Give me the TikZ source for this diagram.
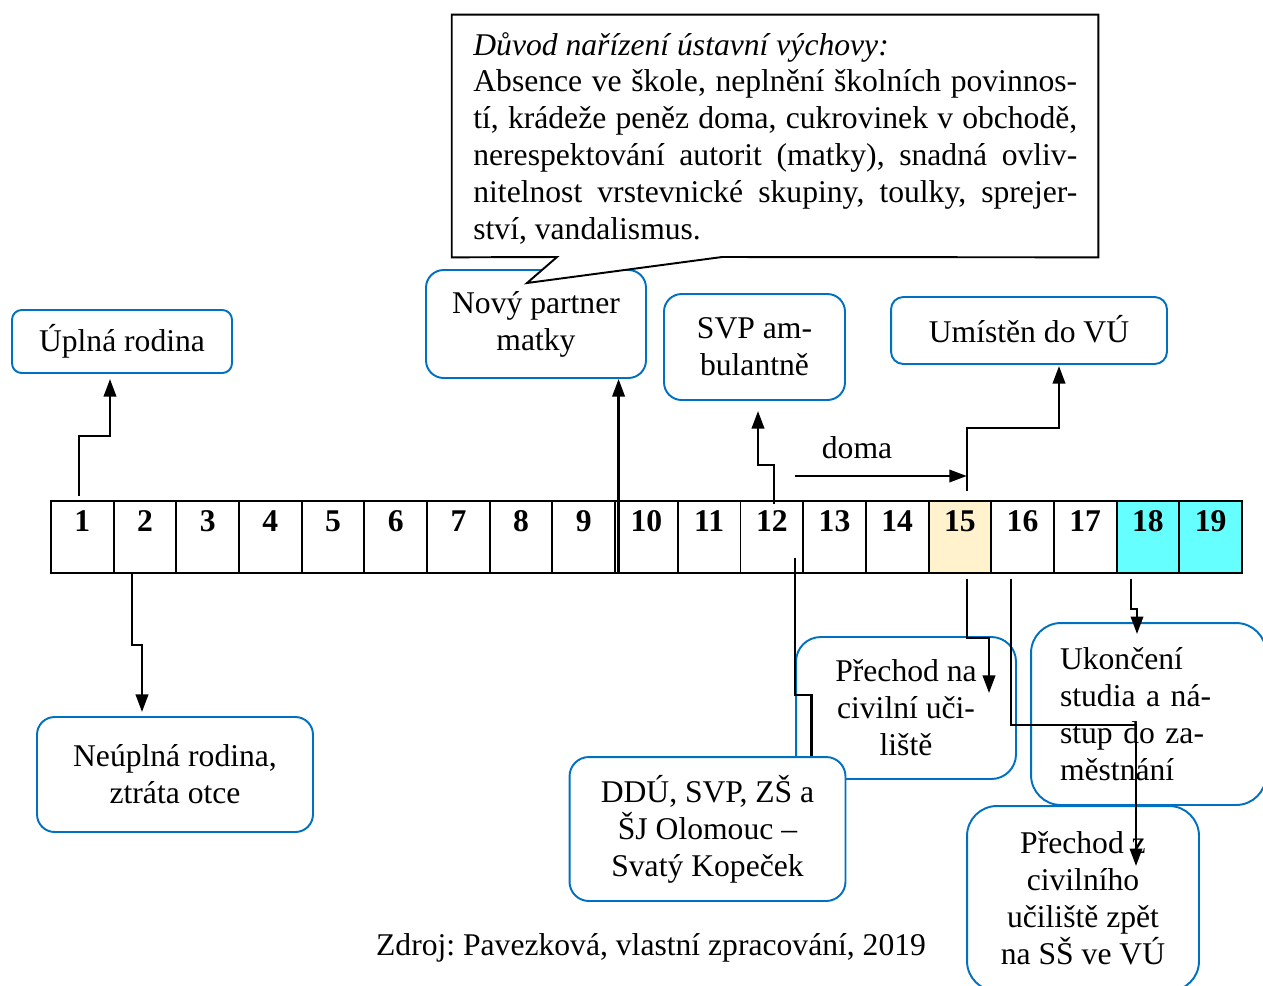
\documentclass[tikz,border=0pt]{standalone}
\usepackage{fontspec}
\setmainfont{Liberation Serif}
\usetikzlibrary{arrows.meta}
\frenchspacing

\definecolor{boxblue}{RGB}{0,112,192}
\definecolor{creamfill}{RGB}{255,242,204}
\definecolor{cyanfill}{RGB}{102,255,255}

\pgfdeclarelayer{back}
\pgfdeclarelayer{mid}
\pgfsetlayers{back,mid,main}

\tikzset{
  txt/.style={font=\fontsize{18}{21}\selectfont},
  box/.style={txt, draw=boxblue, line width=1.1pt, fill=white, align=center, inner sep=0pt},
  cell/.style={draw, line width=1.1pt, minimum width=1.2536cm, minimum height=1.44cm,
    inner sep=0pt, text height=0.6cm, text depth=0.84cm,
    font=\fontsize{18}{21}\selectfont\bfseries},
  conn/.style={line width=1.5pt, -{Triangle[length=10pt,width=7pt]}},
  link/.style={line width=1.5pt}
}

\begin{document}
\begin{tikzpicture}[x=0.02cm, y=-0.02cm]
\frenchspacing
\useasboundingbox (0,0) rectangle (1263,985);

% --- upper event boxes ---
\node[box, rounded corners=5.5pt, minimum width=4.4cm, minimum height=1.26cm] (uplna) at (122,341.5) {Úplná rodina};
\node[box, rounded corners=10pt, minimum width=4.4cm, minimum height=2.16cm] (partner) at (536,324) {Nový partner\\matky};

% --- speech bubble with the reasons ---
\node[minimum width=12.92cm, minimum height=4.84cm, inner sep=0pt] (callout) at (775,136) {};
\coordinate (tip) at (527,283);
\draw[line width=1.1pt, fill=white] (callout.north west) -- (callout.north east)
  -- (callout.south east) -- (722,257) -- (tip) -- (557,257)
  -- (callout.south west) -- cycle;
\node[txt, anchor=base west, inner sep=0pt] (reason) at (473,55) {\parbox[t]{12.08cm}{%
\textit{Důvod nařízení ústavní výchovy:}\\
\makebox[\linewidth][s]{Absence ve škole, neplnění školních povinnos-}\\
\makebox[\linewidth][s]{tí, krádeže peněz doma, cukrovinek v obchodě,}\\
\makebox[\linewidth][s]{nerespektování autorit (matky), snadná ovliv-}\\
\makebox[\linewidth][s]{nitelnost vrstevnické skupiny, toulky, sprejer-}\\
ství, vandalismus.}};

\node[box, rounded corners=10pt, minimum width=3.62cm, minimum height=2.12cm] (svp) at (754.5,347) {SVP am-\\bulantně};
\node[box, rounded corners=7pt, minimum width=5.52cm, minimum height=1.34cm] (umisten) at (1029,330.5) {\raisebox{2pt}{Umístěn do VÚ}};

% --- timeline of ages ---
\begin{pgfonlayer}{back}
\foreach \i/\col in {1/white,2/white,3/white,4/white,5/white,6/white,7/white,8/white,9/white,10/white,
  11/white,12/white,13/white,14/white,15/creamfill,16/white,17/white,18/cyanfill,19/cyanfill}
  \node[cell, fill=\col] (c\i) at ({51+62.68*(\i-0.5)},537) {\i};
\end{pgfonlayer}

% --- arrows above the timeline ---
\draw[conn] ([shift={(-3.5,-4)}]c1.north) -- ++(0,-60) -| ([shift={(-12,5)}]uplna.south);
\coordinate (p10) at ([shift={(4.4,0)}]c10.south west);
\draw[conn] (p10) -- (p10 |- partner.south);
\draw[conn] ([shift={(2,-33)}]c12.center) -- ++(0,-39) -| ([shift={(3.5,10)}]svp.south);
\coordinate (v15) at ([shift={(7,-9)}]c15.north);
\draw[conn] (v15) -- ++(0,-63) -| ([shift={(30,1)}]umisten.south);
\coordinate (domaS) at (795,476);
\draw[conn] (domaS) -- (domaS -| v15);
\node[txt] (doma) at (857,448) {doma};

% --- lower event boxes ---
\node[box, rounded corners=10pt, minimum width=5.52cm, minimum height=2.3cm] (neuplna) at (175,774.5) {Neúplná rodina,\\ztráta otce};
\begin{pgfonlayer}{back}
\node[box, rounded corners=14pt, minimum width=4.4cm, minimum height=2.84cm] (prechodna) at (906,708) {Přechod na\\civilní uči-\\liště};
\end{pgfonlayer}
\node[box, rounded corners=11pt, minimum width=5.52cm, minimum height=2.88cm] (ddu) at (707.5,829) {DDÚ, SVP, ZŠ a\\ŠJ Olomouc –\\Svatý Kopeček};
\begin{pgfonlayer}{mid}
\draw[link] ([shift={(-7.2,21)}]c13.west) -- ++(0,137) -| ([shift={(104,0)}]ddu.north);
\end{pgfonlayer}
\node[box, rounded corners=17pt, text width=3.54cm, align=left, inner xsep=0.58cm, minimum width=4.7cm, minimum height=3.64cm] (ukonceni) at (1148.5,714) {Ukončení\\studia a ná-\\stup do za-\\městnání};
\node[box, rounded corners=17pt, minimum width=4.64cm, minimum height=3.7cm] (prechodz) at (1083,898.5) {Přechod z\\civilního\\učiliště zpět\\na SŠ ve VÚ};

% --- arrows below the timeline ---
\draw[conn] ([shift={(-13,0)}]c2.south) -- ++(0,71) -| ([shift={(-33,-4)}]neuplna.north);
\draw[conn] ([shift={(7,5)}]c15.south) -- ++(0,59) -| ([shift={(83,57)}]prechodna.north);
\draw[conn] ([shift={(-11.5,5)}]c16.south) -- ++(0,146) -| ([shift={(53,61)}]prechodz.north);
\draw[conn] ([shift={(-17,5)}]c18.south) -- ++(0,30) -| ([shift={(-11.5,12)}]ukonceni.north);

% --- source note ---
\node[txt] (zdroj) at (651,948) {Zdroj: Pavezková, vlastní zpracování, 2019};
\end{tikzpicture}
\end{document}
